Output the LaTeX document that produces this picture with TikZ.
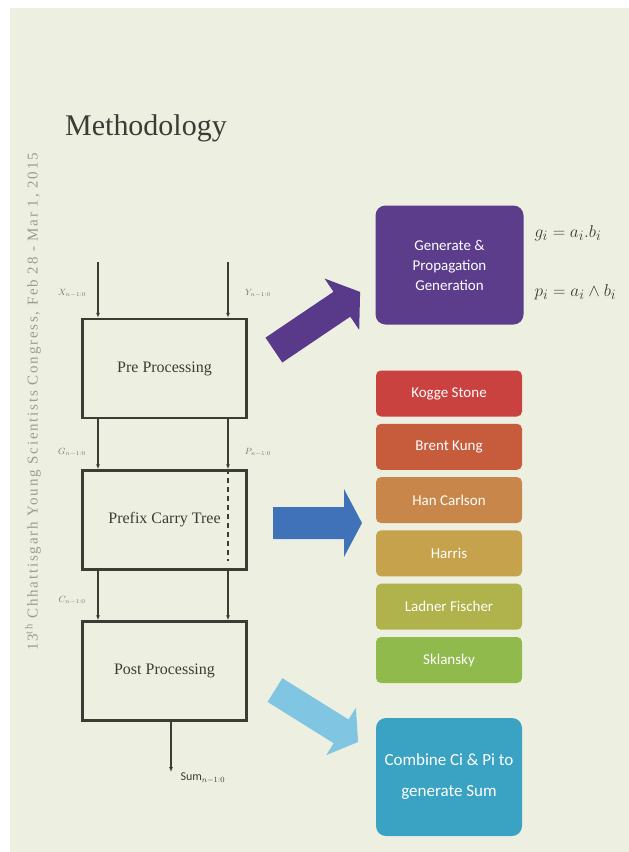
\documentclass[tikz,border=0pt]{standalone}
\usepackage{fontspec}
\setmainfont{Liberation Serif}
\newfontfamily\calfont{Carlito}
\usepackage{tikz}
\usetikzlibrary{arrows.meta,positioning,calc}
\definecolor{PaperBg}{HTML}{EDF0E1}
\definecolor{InkGray}{HTML}{3B3D35}
\definecolor{NoteGray}{HTML}{9A9C94}
\definecolor{GenPurple}{HTML}{5C3D8C}
\definecolor{ArrPurple}{HTML}{58398A}
\definecolor{ArrBlue}{HTML}{3F72B9}
\definecolor{ArrSky}{HTML}{80C6E2}
\definecolor{CombTeal}{HTML}{3AA2C2}
\definecolor{KoggeRed}{HTML}{C9423F}
\definecolor{BrentRust}{HTML}{C75C3D}
\definecolor{HanOrange}{HTML}{C8864B}
\definecolor{HarrisGold}{HTML}{C6A24C}
\definecolor{LadnerOlive}{HTML}{B0B24B}
\definecolor{SklanskyGreen}{HTML}{90BA4C}

\begin{document}
\begin{tikzpicture}[x=1pt,y=-1pt,>={Latex[length=5pt,width=4pt]},
  procbox/.style={draw=InkGray,line width=2.4pt,fill=PaperBg,minimum width=164pt,minimum height=99pt,
    font=\fontsize{16}{18}\selectfont,text=InkGray},
  sig/.style={->,InkGray,line width=1.5pt},
  buslbl/.style={font=\fontsize{9}{10}\selectfont,text=InkGray!70},
  algbox/.style={rounded corners=5pt,minimum width=146pt,minimum height=46pt,text=white,
    font=\calfont\fontsize{15}{17}\selectfont},
  bigbox/.style={rounded corners=10pt,minimum width=148pt,minimum height=119pt,text=white,align=center}]
  \useasboundingbox (0,0) rectangle (629,852);
  \fill[white] (0,0) rectangle (629,852);
  \fill[PaperBg] (10,8) rectangle (629,852);

  % title and side note
  \node[font=\fontsize{30}{34}\selectfont,text=InkGray] (title) at (146,128) {Methodology};
  \node[rotate=90,text=NoteGray,font=\fontsize{15}{17}\selectfont\addfontfeature{LetterSpace=12}] (conf) at (33,402)
    {13\textsuperscript{th} Chhattisgarh Young Scientists Congress, Feb 28 - Mar 1, 2015};

  % adder stages
  \node[procbox] (pre) at (164.5,368.5) {Pre Processing};
  \node[procbox] (pcx) at (164.5,520) {Prefix Carry Tree};
  \node[procbox] (post) at (164.5,671) {Post Processing};
  \coordinate (xin) at (98,262);
  \coordinate (yin) at (228,262);
  \coordinate (sumout) at (171,772);

  \draw[sig] (xin) -- (xin |- pre.north);
  \draw[sig] (yin) -- (yin |- pre.north);
  \draw[sig] (pre.south -| xin) -- (pcx.north -| xin);
  \draw[sig] (pre.south -| yin) -- (pcx.north -| yin);
  \draw[InkGray,line width=1.3pt,dash pattern=on 5pt off 4pt] (pcx.north -| yin) -- ($(pcx.south -| yin)+(0,-10)$);
  \draw[sig] (pcx.south -| xin) -- (post.north -| xin);
  \draw[sig] (pcx.south -| yin) -- (post.north -| yin);
  \draw[sig] (post.south -| sumout) -- (sumout);

  \node[buslbl] (xlbl) at (72,293) {$X_{n-1:0}$};
  \node[buslbl] (ylbl) at (258,293) {$Y_{n-1:0}$};
  \node[buslbl] (glbl) at (72,452) {$G_{n-1:0}$};
  \node[buslbl] (plbl) at (258,452) {$P_{n-1:0}$};
  \node[buslbl] (clbl) at (72,600) {$C_{n-1:0}$};
  \node[font=\calfont\fontsize{12}{14}\selectfont,text=InkGray,anchor=west] (sumlbl) at (177,778) {Sum$_{n-1:0}$};

  % fat arrows
  \foreach \cx/\cy/\ang/\len/\sw/\hw/\hl/\cc in {317/321/34/104/15/31/22/ArrPurple,
      317.5/523/0/89/16/34/18/ArrBlue, 316.5/716/-32/98/14/28/20/ArrSky}{
    \fill[\cc,shift={(\cx,\cy)},rotate=\ang] (-\len/2,-\sw) -- (\len/2-\hl,-\sw) -- (\len/2-\hl,-\hw)
      -- (\len/2,0) -- (\len/2-\hl,\hw) -- (\len/2-\hl,\sw) -- (-\len/2,\sw) -- cycle;
  }

  % right column
  \node[bigbox,fill=GenPurple,font=\calfont\fontsize{15}{20}\selectfont] (gen) at (449.5,265)
    {Generate \&\\Propagation\\Generation};
  \node[font=\fontsize{19}{23}\selectfont,anchor=west,text=InkGray] (geq) at (531,233) {$g_i = a_i.b_i$};
  \node[font=\fontsize{19}{23}\selectfont,anchor=west,text=InkGray] (peq) at (531,292) {$p_i = a_i \wedge b_i$};

  \foreach \i/\txt/\cc in {0/Kogge Stone/KoggeRed, 1/Brent Kung/BrentRust, 2/Han Carlson/HanOrange,
      3/Harris/HarrisGold, 4/Ladner Fischer/LadnerOlive, 5/Sklansky/SklanskyGreen}{
    \node[algbox,fill=\cc] (alg\i) at (449, 393.5+53.3*\i) {\txt};
  }

  \node[bigbox,fill=CombTeal,minimum width=146pt,minimum height=118pt,font=\calfont\fontsize{17}{31}\selectfont] (comb)
    at (449,777) {Combine Ci \& Pi to\\generate Sum};
\end{tikzpicture}
\end{document}
